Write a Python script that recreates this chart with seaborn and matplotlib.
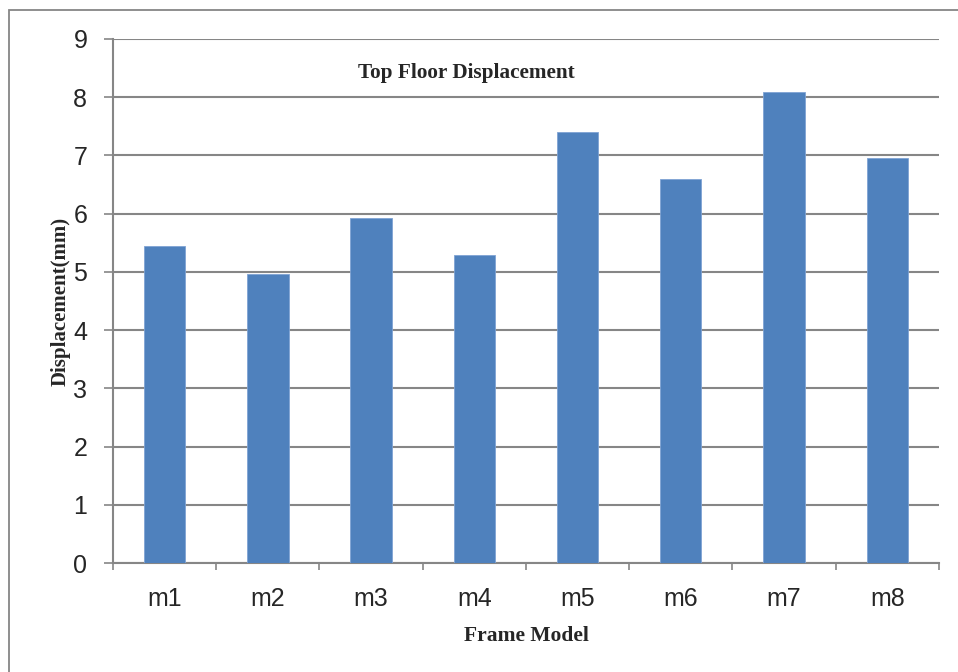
import pandas as pd
import seaborn as sns
import matplotlib.pyplot as plt
from matplotlib.patches import Rectangle

models = ["m1", "m2", "m3", "m4", "m5", "m6", "m7", "m8"]
displacement = [5.45, 4.97, 5.93, 5.29, 7.40, 6.59, 8.09, 6.95]
y_ticks = [0, 1, 2, 3, 4, 5, 6, 7, 8, 9]

BAR_COLOR = "#4F81BD"
GRID_COLOR = "#868686"
SERIF = ["Liberation Serif", "DejaVu Serif"]
NARROW = ["Liberation Sans Narrow", "Liberation Sans", "DejaVu Sans"]


def main():
    df = pd.DataFrame({"model": models, "disp": displacement})

    sns.set_style("white")
    plt.rcParams["font.family"] = NARROW

    fig = plt.figure(figsize=(9.58, 6.72), dpi=100)
    ax = fig.add_axes([0.118, 0.1622, 0.862, 0.7798])

    # outer chart border, runs off the right and bottom edges
    fig.patches.append(Rectangle((9 / 958, -0.05), 1.0, 1 - 10 / 672 + 0.05,
                                 transform=fig.transFigure, fill=False,
                                 edgecolor=GRID_COLOR, linewidth=1.3, zorder=0))

    sns.barplot(data=df, x="model", y="disp", color=BAR_COLOR, width=0.4,
                saturation=1, edgecolor="#7FA3D4", linewidth=0.6, ax=ax, zorder=3)

    ax.set_ylim(0, 9)
    ax.set_xlim(-0.5, len(models) - 0.5)
    ax.set_yticks(y_ticks)
    ax.yaxis.grid(True, color=GRID_COLOR, linewidth=1.5, zorder=0)
    ax.set_axisbelow(True)

    for side in ["top", "right"]:
        ax.spines[side].set_visible(False)
    for side in ["left", "bottom"]:
        ax.spines[side].set_color(GRID_COLOR)
        ax.spines[side].set_linewidth(1.5)

    ax.tick_params(axis="y", which="major", length=6.5, width=1.2, color=GRID_COLOR,
                   pad=12, labelsize=18, direction="out", left=True)
    ax.set_xticks([i - 0.5 for i in range(len(models) + 1)], minor=True)
    ax.tick_params(axis="x", which="minor", length=5, width=1.2, color=GRID_COLOR,
                   direction="out", bottom=True)
    ax.tick_params(axis="x", which="major", length=0, pad=17, labelsize=18)

    ax.set_xlabel("Frame Model", fontsize=15.5, fontweight="bold", family=SERIF, labelpad=11)
    ax.set_ylabel("Displacement(mm)", fontsize=15, fontweight="bold", family=SERIF, labelpad=2)

    ax.text(0.428, 0.935, "Top Floor Displacement", transform=ax.transAxes,
            fontsize=15.3, fontweight="bold", family=SERIF, ha="center", va="center")

    fig.savefig("out.png", dpi=100)
    plt.close(fig)


if __name__ == "__main__":
    main()
